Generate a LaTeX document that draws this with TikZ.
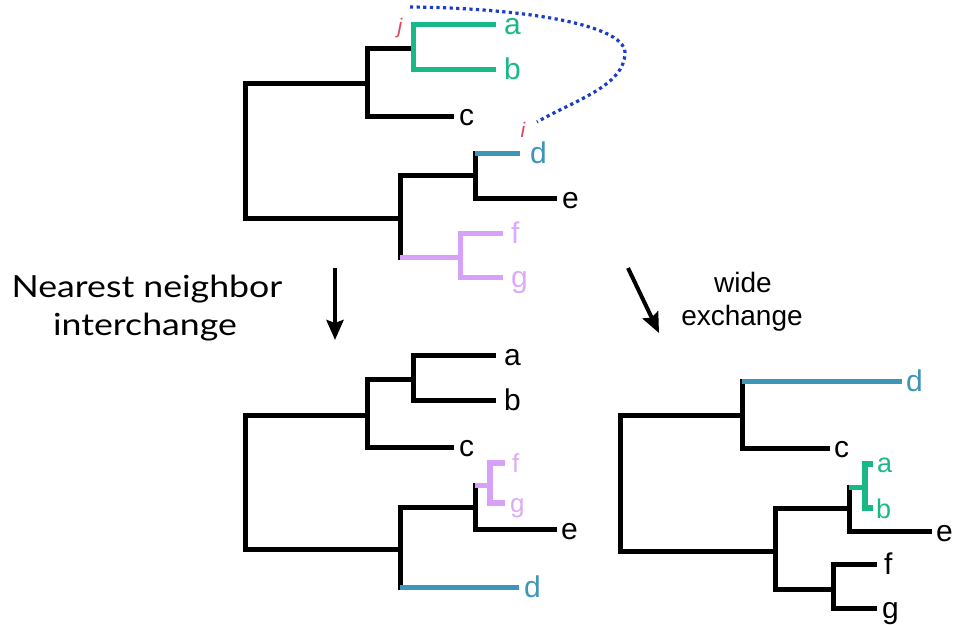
\documentclass[tikz,border=0pt]{standalone}
\usepackage{fontspec}
\setmainfont{Liberation Sans}
\newfontfamily\headfont[FakeStretch=1.17]{Lato}
\usetikzlibrary{arrows.meta}

\definecolor{cladegreen}{HTML}{19B987}
\definecolor{cladeblue}{HTML}{3D95B8}
\definecolor{cladepurple}{HTML}{D7A1F9}
\definecolor{purplelabel}{HTML}{DCAAF9}
\definecolor{markred}{HTML}{E2455F}
\definecolor{swapblue}{HTML}{1B3CC4}

\begin{document}
\begin{tikzpicture}[x=1pt,y=-1pt,
  br/.style={line width=5pt, line join=miter, black},
  brgreen/.style={br, cladegreen},
  brblue/.style={br, cladeblue},
  brpurple/.style={br, cladepurple},
  leaf/.style={font=\fontsize{30}{30}\selectfont, inner sep=0pt, anchor=base west},
  smallleaf/.style={leaf, font=\fontsize{26}{26}\selectfont},
  midleaf/.style={leaf, font=\fontsize{27}{27}\selectfont},
  headtext/.style={font=\headfont\fontsize{30.5}{30.5}\selectfont, inner sep=0pt, anchor=base},
  movetext/.style={font=\fontsize{28}{28}\selectfont, inner sep=0pt, anchor=base},
  markit/.style={font=\itshape\fontsize{21}{21}\selectfont, text=markred, inner sep=0pt, anchor=base},
  movearrow/.style={line width=4pt, -{Stealth[length=20pt, width=17pt, inset=3pt]}},
  swapline/.style={swapblue, line width=3.2pt, dash pattern=on 3.2pt off 3.4pt}
]
\useasboundingbox (0,0) rectangle (955,624);

% ---------------- starting tree ----------------
\coordinate (a1) at (496,24);
\coordinate (b1) at (496,69);
\coordinate (c1) at (454,116);
\coordinate (d1) at (520,153);
\coordinate (e1) at (557,198);
\coordinate (f1) at (503,233);
\coordinate (g1) at (503,277);
\coordinate (ab1) at (413,48);
\coordinate (abc1) at (367,83);
\coordinate (de1) at (475,175);
\coordinate (fg1) at (460,257);
\coordinate (defg1) at (400,218);
\coordinate (root1) at (245,150);

\draw[br] (a1) -| (ab1) |- (b1);
\draw[br] (ab1) -| (abc1) |- (c1);
\draw[br] (d1) -| (de1) |- (e1);
\draw[br] (de1) -| (defg1) |- (fg1);
\draw[br] (abc1) -| (root1) |- (defg1);
\draw[brgreen] (a1) -| (ab1) |- (b1);
\draw[brblue] (de1 |- d1) -- (d1);
\draw[brpurple] (f1) -| (fg1) |- (g1);
\draw[brpurple] (defg1 |- fg1) -- (fg1);

\node[leaf, text=cladegreen] (la1) at ([xshift=8pt,yshift=-10pt]a1) {a};
\node[leaf, text=cladegreen] (lb1) at ([xshift=8pt,yshift=-10pt]b1) {b};
\node[leaf] (lc1) at ([xshift=5pt,yshift=-9pt]c1) {c};
\node[leaf, text=cladeblue] (ld1) at ([xshift=10pt,yshift=-10pt]d1) {d};
\node[leaf] (le1) at ([xshift=5pt,yshift=-10pt]e1) {e};
\node[leaf, text=purplelabel] (lf1) at ([xshift=8pt,yshift=-10pt]f1) {f};
\node[leaf, text=purplelabel] (lg1) at ([xshift=8pt,yshift=-10pt]g1) {g};

% the two subtrees that are swapped
\coordinate (jpt) at (410,7);
\coordinate (turn) at (625,52);
\coordinate (ipt) at (537,122);
\draw[swapline] (jpt) .. controls (520,8) and (623,24) .. (turn)
                .. controls (625,86) and (575,100) .. (ipt);
\node[markit] (mj) at (400,33) {j};
\node[markit] (mi) at (523,137) {i};

% ---------------- moves ----------------
\coordinate (nniS) at (335,268);
\coordinate (nniE) at (335,340);
\draw[movearrow] (nniS) -- (nniE);
\coordinate (wideS) at (628,268);
\coordinate (wideE) at (659,333);
\draw[movearrow] (wideS) -- (wideE);

\node[headtext] (nn1) at (147,297) {Nearest neighbor};
\node[headtext] (nn2) at (145,335) {interchange};
\node[movetext] (we1) at (743,292) {wide};
\node[movetext] (we2) at (742,325) {exchange};

% ---------------- after nearest neighbor interchange ----------------
\coordinate (a2) at (496,355);
\coordinate (b2) at (496,400);
\coordinate (c2) at (454,447);
\coordinate (ab2) at (413,379);
\coordinate (abc2) at (367,415);
\coordinate (f2) at (505,463);
\coordinate (g2) at (505,503);
\coordinate (fg2) at (490,485);
\coordinate (fge2) at (475,507);
\coordinate (e2) at (557,529);
\coordinate (d2) at (519,587);
\coordinate (lower2) at (400,549);
\coordinate (root2) at (245,480);

\draw[br] (a2) -| (ab2) |- (b2);
\draw[br] (ab2) -| (abc2) |- (c2);
\draw[br] (fg2) -| (fge2) |- (e2);
\draw[br] (fge2) -| (lower2) |- (d2);
\draw[br] (abc2) -| (root2) |- (lower2);
\draw[brpurple] (fge2 |- fg2) -- (fg2);
\draw[brpurple, line width=6pt] (f2) -| (fg2) |- (g2);
\draw[brblue] (lower2 |- d2) -- (d2);

\node[leaf] (la2) at ([xshift=8pt,yshift=-10pt]a2) {a};
\node[leaf] (lb2) at ([xshift=8pt,yshift=-10pt]b2) {b};
\node[leaf] (lc2) at ([xshift=5pt,yshift=-9pt]c2) {c};
\node[smallleaf, text=purplelabel] (lf2) at ([xshift=7pt,yshift=-9pt]f2) {f};
\node[smallleaf, text=purplelabel] (lg2) at ([xshift=5pt,yshift=-9pt]g2) {g};
\node[leaf] (le2) at ([xshift=4pt,yshift=-10pt]e2) {e};
\node[leaf, text=cladeblue] (ld2) at ([xshift=5pt,yshift=-10pt]d2) {d};

% ---------------- after wide exchange ----------------
\coordinate (d3) at (902,381);
\coordinate (c3) at (830,448);
\coordinate (dc3) at (742,415);
\coordinate (a3) at (873,464);
\coordinate (b3) at (873,508);
\coordinate (ab3) at (865,487);
\coordinate (abe3) at (849,508);
\coordinate (e3) at (932,531);
\coordinate (f3) at (877,564);
\coordinate (g3) at (877,608);
\coordinate (fg3) at (833,589);
\coordinate (lower3) at (775,551);
\coordinate (root3) at (620,480);

\draw[br] (d3) -| (dc3) |- (c3);
\draw[br] (ab3) -| (abe3) |- (e3);
\draw[br] (f3) -| (fg3) |- (g3);
\draw[br] (abe3) -| (lower3) |- (fg3);
\draw[br] (dc3) -| (root3) |- (lower3);
\draw[brblue] (dc3 |- d3) -- (d3);
\draw[brgreen] (abe3 |- ab3) -- (ab3);
\draw[brgreen, line width=6pt] (a3) -| (ab3) |- (b3);

\node[leaf, text=cladeblue] (ld3) at ([xshift=4pt,yshift=-10pt]d3) {d};
\node[leaf] (lc3) at ([xshift=4pt,yshift=-9pt]c3) {c};
\node[midleaf, text=cladegreen] (la3) at ([xshift=4pt,yshift=-8pt]a3) {a};
\node[midleaf, text=cladegreen] (lb3) at ([xshift=3pt,yshift=-10pt]b3) {b};
\node[leaf] (le3) at ([xshift=4pt,yshift=-10pt]e3) {e};
\node[leaf] (lf3) at ([xshift=7pt,yshift=-10pt]f3) {f};
\node[leaf] (lg3) at ([xshift=5pt,yshift=-10pt]g3) {g};
\end{tikzpicture}
\end{document}
